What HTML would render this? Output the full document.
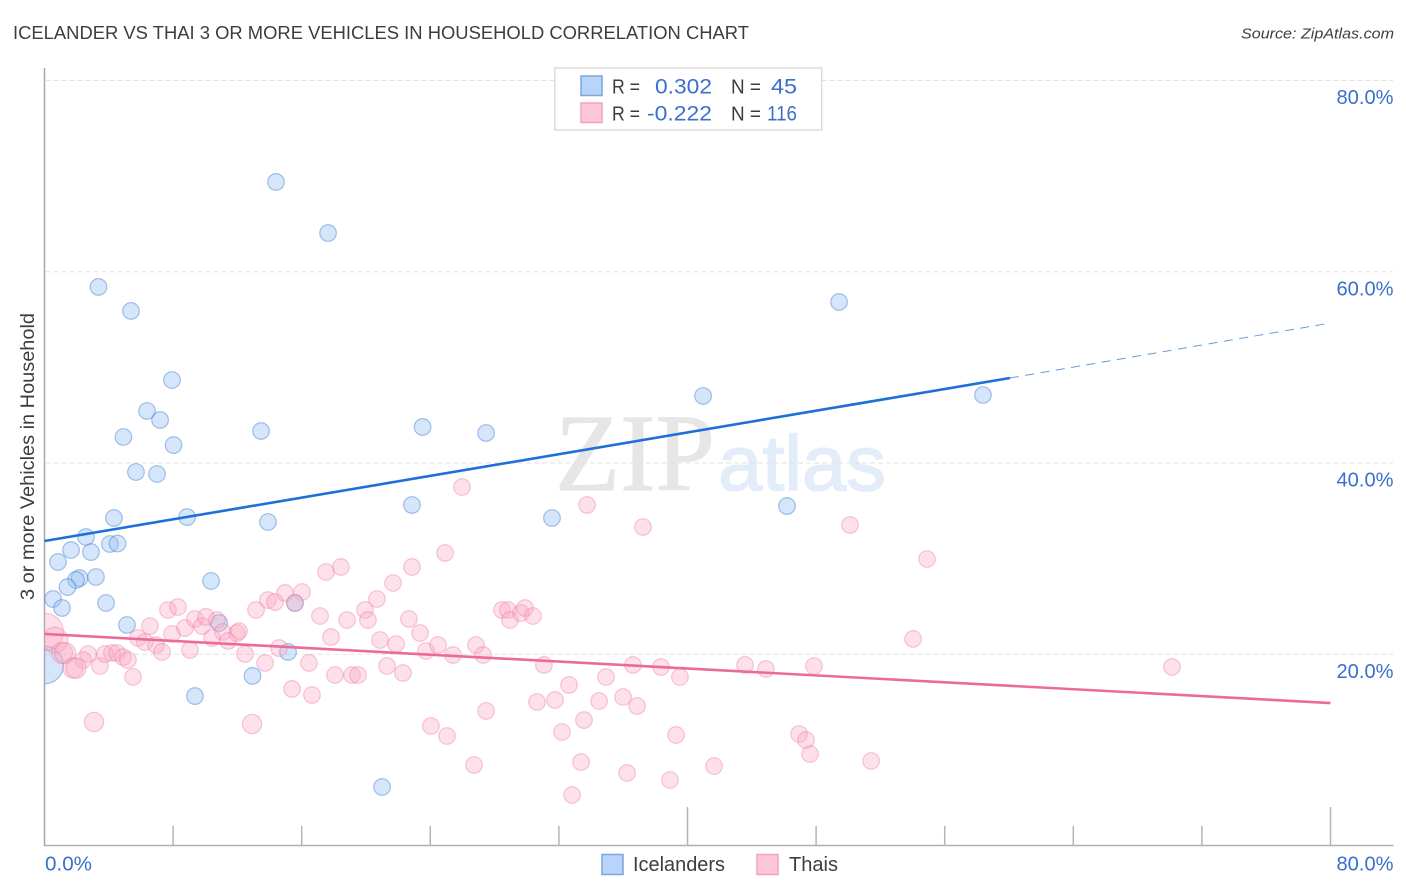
<!DOCTYPE html>
<html lang="en">
<head>
<meta charset="utf-8">
<title>Icelander vs Thai 3 or More Vehicles in Household Correlation Chart</title>
<style>
html,body{margin:0;padding:0;background:#fff;width:1406px;height:892px;overflow:hidden}
svg{display:block;font-family:"Liberation Sans",sans-serif}
</style>
</head>
<body>
<svg id="chart" xmlns="http://www.w3.org/2000/svg" width="1406" height="892" viewBox="0 0 1406 892">
  <defs>
    <clipPath id="plot-clip"><rect x="44.5" y="60" width="1349" height="785.5"/></clipPath>
  </defs>
  <rect x="0" y="0" width="1406" height="892" fill="#fff"/>
  <text x="13" y="39" font-size="18.5" fill="#3a3e44" textLength="736" lengthAdjust="spacingAndGlyphs">ICELANDER VS THAI 3 OR MORE VEHICLES IN HOUSEHOLD CORRELATION CHART</text>
  <text x="1394" y="38.5" font-size="15" font-style="italic" fill="#3c4044" text-anchor="end" textLength="153" lengthAdjust="spacingAndGlyphs">Source: ZipAtlas.com</text>

  <g>
    <text x="555" y="490" font-family="'Liberation Serif',serif" font-size="110" fill="#e6e6e6" stroke="#e6e6e6" stroke-width="1" textLength="160" lengthAdjust="spacingAndGlyphs">ZIP</text>
    <text x="718" y="490" font-size="78" fill="#e3ecf9" stroke="#e3ecf9" stroke-width="1.5" textLength="168" lengthAdjust="spacingAndGlyphs">atlas</text>
  </g>

  <g id="grid"></g>
  <g id="axes">
    <line x1="44.5" y1="68" x2="44.5" y2="846" stroke="#a8a8a8" stroke-width="1.5"/>
    <line x1="44" y1="845.5" x2="1393.5" y2="845.5" stroke="#b0b0b0" stroke-width="1.5"/>
  </g>
  <g id="xticks"></g>
  <g id="ylabels"></g>
  <g id="xlabels"></g>

  <g id="points-icelanders" clip-path="url(#plot-clip)"></g>
  <g id="points-thais" clip-path="url(#plot-clip)"></g>
  <g id="trends"></g>

  <text transform="translate(34 456.5) rotate(-90)" font-size="19.5" fill="#3a3e44" text-anchor="middle" textLength="287" lengthAdjust="spacingAndGlyphs">3 or more Vehicles in Household</text>

  <g>
    <rect x="554.75" y="68" width="267" height="62" fill="#fff" stroke="#dcdcdc" stroke-width="1.5"/>
    <rect x="581" y="76" width="21" height="19.5" fill="#b8d4f8" stroke="#7ba6e0" stroke-width="1.5"/>
    <rect x="581" y="103" width="21" height="19.5" fill="#fdc6d9" stroke="#f0a3be" stroke-width="1.5"/>
    <text x="612" y="93.5" font-size="20" fill="#3a3e44" textLength="28" lengthAdjust="spacingAndGlyphs">R =</text>
    <text x="655" y="93.5" font-size="21.5" fill="#3a70cc" textLength="57" lengthAdjust="spacingAndGlyphs">0.302</text>
    <text x="731" y="93.5" font-size="20" fill="#3a3e44" textLength="30" lengthAdjust="spacingAndGlyphs">N =</text>
    <text x="771" y="93.5" font-size="21.5" fill="#3a70cc" textLength="26" lengthAdjust="spacingAndGlyphs">45</text>
    <text x="612" y="120.5" font-size="20" fill="#3a3e44" textLength="28" lengthAdjust="spacingAndGlyphs">R =</text>
    <text x="647" y="120.5" font-size="21.5" fill="#3a70cc" textLength="65" lengthAdjust="spacingAndGlyphs">-0.222</text>
    <text x="731" y="120.5" font-size="20" fill="#3a3e44" textLength="30" lengthAdjust="spacingAndGlyphs">N =</text>
    <text x="767" y="120.5" font-size="21.5" fill="#3a70cc" textLength="30" lengthAdjust="spacingAndGlyphs">116</text>
  </g>

  <g>
    <rect x="602" y="854.5" width="21" height="20" fill="#b8d4f8" stroke="#7ba6e0" stroke-width="1.5"/>
    <text x="633" y="871" font-size="20" fill="#3a3e44" textLength="92" lengthAdjust="spacingAndGlyphs">Icelanders</text>
    <rect x="757" y="854.5" width="21" height="20" fill="#fdc6d9" stroke="#f0a3be" stroke-width="1.5"/>
    <text x="789" y="871" font-size="20" fill="#3a3e44" textLength="49" lengthAdjust="spacingAndGlyphs">Thais</text>
  </g>
</svg>

<script>
const yTickValues = [20, 40, 60, 80];
const yTickLabels = ["20.0%", "40.0%", "60.0%", "80.0%"];
const xTickValues = [8, 16, 24, 32, 40, 48, 56, 64, 72, 80];
const xMajorTicks = [40, 80];
const xLabelValues = [0, 80];
const xLabelTexts = ["0.0%", "80.0%"];

const icelanderX = [14.40,17.64,3.36,5.38,49.43,7.93,40.97,58.38,6.38,7.19,4.91,8.03,13.47,23.52,27.47,5.69,7.00,4.32,8.87,13.90,22.86,31.57,46.19,2.58,4.07,4.54,1.65,2.89,0.84,2.18,1.96,1.43,3.20,0.53,1.09,3.83,10.36,5.13,10.86,15.58,15.15,9.36,12.94,21.00,0.00];
const icelanderY = [69.39,64.05,58.41,55.90,56.84,48.68,47.01,47.11,45.44,44.50,42.72,41.88,43.35,43.77,43.14,39.06,38.85,34.25,34.35,33.83,35.61,34.25,35.50,32.26,31.53,31.58,30.90,30.69,29.65,27.97,27.77,27.03,28.08,25.78,24.84,25.36,27.66,23.06,23.27,25.36,20.24,15.63,17.73,6.12,18.88];
const icelanderWeights = {44: 5.2};

const thaiX = [0.00,0.65,1.09,1.28,2.71,2.40,1.77,1.96,3.45,3.76,4.20,4.51,4.88,5.19,5.51,3.08,5.82,6.25,6.94,7.31,6.56,7.68,8.30,7.93,8.74,9.36,9.80,10.05,10.73,10.42,11.10,11.42,11.98,12.10,9.05,12.47,13.16,13.90,14.34,14.96,16.02,15.58,14.59,13.72,12.91,15.40,16.64,16.45,17.14,17.82,18.07,17.51,18.44,18.82,19.13,19.50,19.94,20.12,20.68,21.68,22.86,24.92,25.97,33.75,37.23,50.11,54.90,54.03,70.14,20.87,21.87,21.31,22.30,22.67,23.36,23.73,24.48,25.41,26.84,27.28,28.46,28.83,28.96,29.64,29.89,30.39,31.07,30.64,31.76,32.63,34.93,34.50,35.99,36.86,36.61,38.35,39.53,43.58,44.88,47.87,39.29,46.94,47.37,47.62,51.42,41.65,38.91,36.24,33.38,32.19,33.56,32.82,26.72,25.04,24.04,27.47];
const thaiY = [22.33,21.49,20.13,20.13,20.03,19.40,18.56,18.56,18.77,20.03,20.13,20.13,19.71,19.40,17.62,12.92,21.70,21.28,20.97,20.24,22.95,24.63,24.94,22.12,22.74,23.69,22.95,23.90,23.58,21.70,22.33,21.39,22.22,22.43,20.45,20.03,24.63,25.67,25.46,26.41,26.51,25.36,20.65,19.09,12.71,16.37,15.74,19.09,24.00,21.80,17.83,28.60,29.13,23.58,17.83,17.83,24.63,23.58,25.78,27.45,29.13,30.59,37.49,35.61,33.31,33.52,29.96,21.60,18.67,21.49,21.07,18.77,18.04,23.69,22.22,20.34,20.97,19.92,20.97,19.92,24.63,24.63,23.58,24.31,24.84,24.00,18.88,15.01,15.22,16.79,17.62,15.11,15.53,14.59,18.88,18.67,17.62,18.88,18.46,18.77,11.56,11.66,11.03,9.57,8.84,8.31,6.85,7.58,8.73,11.87,13.12,5.28,8.42,11.45,12.50,14.07];
const thaiWeights = {0: 5.2, 1: 2.4, 2: 1.6, 3: 1.6, 6: 1.5, 7: 1.5, 15: 1.35, 44: 1.35};

const icelanderTrendX = [0, 60.06];
const icelanderTrendY = [31.84, 48.89];
const icelanderProjectionX = [60.06, 80];
const icelanderProjectionY = [48.89, 54.64];
const thaiTrendX = [0, 80];
const thaiTrendY = [22.12, 14.90];

const SVG_NS = "http://www.w3.org/2000/svg";
const xScale = function (v) { return 44.5 + v * (1286 / 80); };
const yScale = function (v) { return 845.5 - v * (765 / 80); };
const BASE_RADIUS = 8.3;

function mk(tag, parent, props) {
  const el = document.createElementNS(SVG_NS, tag);
  for (const k in props) el.setAttribute(k, props[k]);
  parent.appendChild(el);
  return el;
}

const gridGroup = document.getElementById("grid");
const yLabelGroup = document.getElementById("ylabels");
yTickValues.forEach(function (v, i) {
  const line = mk("line", gridGroup, {x1: 46, x2: 1393, y1: yScale(v), y2: yScale(v), stroke: "#e2e2e2", "stroke-width": 1, "stroke-dasharray": "5 3"});
  
  
  const label = mk("text", yLabelGroup, {x: 1393.5, y: yScale(v) + 23.5, "font-size": 20, fill: "#3a70cc", "text-anchor": "end", textLength: 57, lengthAdjust: "spacingAndGlyphs"});
  label.textContent = yTickLabels[i];
  
  
});

const xTickGroup = document.getElementById("xticks");
xTickValues.forEach(function (v) {
  const top = xMajorTicks.indexOf(v) >= 0 ? 807 : 826;
  const tick = mk("line", xTickGroup, {x1: xScale(v), x2: xScale(v), y1: top, y2: 845.5, stroke: "#b4b4b4", "stroke-width": 1.5});
  
  
});

const xLabelGroup = document.getElementById("xlabels");
xLabelValues.forEach(function (v, i) {
  const atEnd = v === xLabelValues[xLabelValues.length - 1];
  const label = mk("text", xLabelGroup, {
    x: atEnd ? 1393.5 : xScale(v) + 0.5, y: 870.5, "font-size": 20, fill: "#3a70cc",
    "text-anchor": atEnd ? "end" : "start", textLength: atEnd ? 57 : 47, lengthAdjust: "spacingAndGlyphs"
  });
  label.textContent = xLabelTexts[i];
  
  
});

function drawPoints(groupId, xs, ys, weights, fill, stroke, name) {
  const group = document.getElementById(groupId);
  xs.forEach(function (v, i) {
    const w = weights[i] || 1;
    const dot = mk("circle", group, {cx: xScale(v), cy: yScale(ys[i]), r: BASE_RADIUS * Math.sqrt(w), fill: fill, stroke: stroke, "stroke-width": 1.2});
    
    
  });
}
drawPoints("points-icelanders", icelanderX, icelanderY, icelanderWeights, "rgba(150,192,242,0.40)", "rgba(62,122,206,0.45)", "icelander-point");
drawPoints("points-thais", thaiX, thaiY, thaiWeights, "rgba(250,170,198,0.36)", "rgba(236,120,160,0.40)", "thai-point");

const trendGroup = document.getElementById("trends");
const blueTrend = mk("line", trendGroup, {x1: xScale(icelanderTrendX[0]), y1: yScale(icelanderTrendY[0]), x2: xScale(icelanderTrendX[1]), y2: yScale(icelanderTrendY[1]), stroke: "#1f6fd8", "stroke-width": 2.6});


const blueProjection = mk("line", trendGroup, {x1: xScale(icelanderProjectionX[0]), y1: yScale(icelanderProjectionY[0]), x2: xScale(icelanderProjectionX[1]), y2: yScale(icelanderProjectionY[1]), stroke: "#6a9ad8", "stroke-width": 1, "stroke-dasharray": "9 6.5"});


const pinkTrend = mk("line", trendGroup, {x1: xScale(thaiTrendX[0]), y1: yScale(thaiTrendY[0]), x2: xScale(thaiTrendX[1]), y2: yScale(thaiTrendY[1]), stroke: "#ec6a9b", "stroke-width": 2.6});


</script>
</body>
</html>
